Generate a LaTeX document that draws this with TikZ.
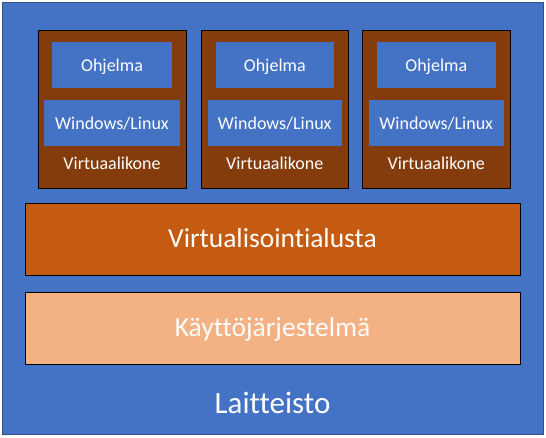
\documentclass[tikz,border=0pt]{standalone}
\usepackage{fontspec}
\setmainfont[Ligatures={NoCommon}]{Carlito}
\definecolor{hwblue}{HTML}{4472C4}
\definecolor{hwedge}{HTML}{2F528F}
\definecolor{vmbrown}{HTML}{843C0C}
\definecolor{hvorange}{HTML}{C55A11}
\definecolor{ospeach}{HTML}{F4B183}
\begin{document}
\begin{tikzpicture}[x=1pt,y=-1pt,
  layerbox/.style={draw=black,line width=0.8pt},
  vmbox/.style={draw=black,fill=vmbrown,line width=0.8pt},
  innerbox/.style={fill=hwblue},
  smalltxt/.style={text=white,font=\fontsize{18}{18}\selectfont,anchor=base,inner sep=0pt},
  bigtxt/.style={text=white,font=\fontsize{27.5}{27.5}\selectfont,anchor=base,inner sep=0pt}]
\useasboundingbox (0,0) rectangle (546,438);
\draw[fill=hwblue,draw=hwedge,line width=0.8pt] (2.5,2.5) rectangle (543,434.5);
\foreach \i/\xl/\xr in {1/38/186,2/201.5/348,3/362.5/510}{
  \draw[vmbox] (\xl,30.5) rectangle (\xr,188);
  \fill[innerbox] (\xl+14,42.5) rectangle (\xr-14,88);
  \fill[innerbox] (\xl+6,100.5) rectangle (\xr-6,146.5);
  \node[smalltxt] (prog\i) at ({(\xl+\xr)/2},71.5) {Ohjelma};
  \node[smalltxt] (os\i) at ({(\xl+\xr)/2},130) {Windows/Linux};
  \node[smalltxt] (vm\i) at ({(\xl+\xr)/2},169.3) {Virtuaalikone};
}
\draw[layerbox,fill=hvorange] (25,203.5) rectangle (520,275);
\node[bigtxt] (hv) at (272.5,248) {Virtualisointialusta};
\draw[layerbox,fill=ospeach] (25,292.5) rectangle (520,364);
\node[bigtxt] (host) at (272.5,336.7) {Käyttöjärjestelmä};
\node[bigtxt,font=\fontsize{31}{31}\selectfont] (hw) at (272.5,413) {Laitteisto};
\end{tikzpicture}
\end{document}
